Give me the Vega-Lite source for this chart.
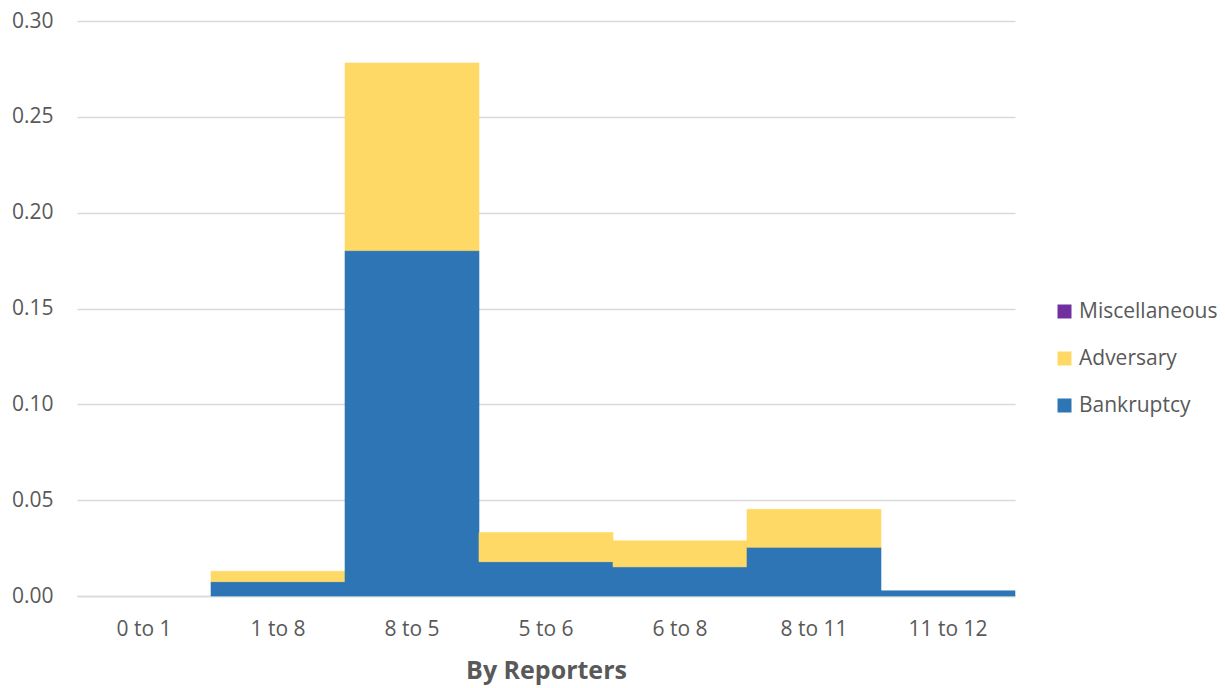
{
  "$schema": "https://vega.github.io/schema/vega-lite/v6.json",
  "width": 938,
  "height": 575,
  "autosize": {"type": "none"},
  "padding": {"left": 77, "top": 21, "right": 210, "bottom": 92},
  "background": "white",
  "config": {
    "view": {"stroke": null},
    "font": "Open Sans"
  },
  "data": {
    "values": [
      {"range": "0 to 1", "type": "Bankruptcy", "value": 0},
      {"range": "0 to 1", "type": "Adversary", "value": 0},
      {"range": "0 to 1", "type": "Miscellaneous", "value": 0},
      {"range": "1 to 8", "type": "Bankruptcy", "value": 0.0075},
      {"range": "1 to 8", "type": "Adversary", "value": 0.0054},
      {"range": "1 to 8", "type": "Miscellaneous", "value": 0},
      {"range": "8 to 5", "type": "Bankruptcy", "value": 0.1802},
      {"range": "8 to 5", "type": "Adversary", "value": 0.0979},
      {"range": "8 to 5", "type": "Miscellaneous", "value": 0},
      {"range": "5 to 6", "type": "Bankruptcy", "value": 0.0179},
      {"range": "5 to 6", "type": "Adversary", "value": 0.0152},
      {"range": "5 to 6", "type": "Miscellaneous", "value": 0},
      {"range": "6 to 8", "type": "Bankruptcy", "value": 0.0152},
      {"range": "6 to 8", "type": "Adversary", "value": 0.0136},
      {"range": "6 to 8", "type": "Miscellaneous", "value": 0},
      {"range": "8 to 11", "type": "Bankruptcy", "value": 0.0254},
      {"range": "8 to 11", "type": "Adversary", "value": 0.0198},
      {"range": "8 to 11", "type": "Miscellaneous", "value": 0},
      {"range": "11 to 12", "type": "Bankruptcy", "value": 0.0027},
      {"range": "11 to 12", "type": "Adversary", "value": 0},
      {"range": "11 to 12", "type": "Miscellaneous", "value": 0}
    ]
  },
  "transform": [
    {"filter": "datum.value > 0"},
    {"calculate": "indexof(['Bankruptcy','Adversary','Miscellaneous'], datum.type)", "as": "stackOrder"}
  ],
  "mark": {"type": "bar", "strokeWidth": 0.6},
  "encoding": {
    "x": {
      "field": "range",
      "type": "nominal",
      "sort": ["0 to 1", "1 to 8", "8 to 5", "5 to 6", "6 to 8", "8 to 11", "11 to 12"],
      "scale": {"domain": ["0 to 1", "1 to 8", "8 to 5", "5 to 6", "6 to 8", "8 to 11", "11 to 12"], "paddingInner": 0, "paddingOuter": 0},
      "axis": {
        "title": "By Reporters",
        "titleFontSize": 25,
        "titleFontWeight": "bold",
        "titleColor": "#595959",
        "titlePadding": 19,
        "labelAngle": 0,
        "labelFontSize": 21,
        "labelColor": "#595959",
        "labelPadding": 22,
        "ticks": false,
        "domainColor": "#d9d9d9",
        "domainWidth": 1.5
      }
    },
    "y": {
      "field": "value",
      "type": "quantitative",
      "stack": "zero",
      "scale": {"domain": [0, 0.3], "nice": false},
      "axis": {
        "title": null,
        "values": [0, 0.05, 0.1, 0.15, 0.2, 0.25, 0.3],
        "format": ".2f",
        "labelFontSize": 21,
        "labelColor": "#595959",
        "labelPadding": 24,
        "ticks": false,
        "domain": false,
        "gridColor": "#d9d9d9",
        "gridWidth": 1.3
      }
    },
    "color": {
      "field": "type",
      "type": "nominal",
      "scale": {
        "domain": ["Miscellaneous", "Adversary", "Bankruptcy"],
        "range": ["#7030A0", "#FFD966", "#2E75B6"]
      },
      "legend": {
        "title": null,
        "orient": "none",
        "legendX": 977,
        "legendY": 280,
        "symbolType": "square",
        "symbolSize": 196,
        "symbolStrokeWidth": 0,
        "labelFontSize": 21,
        "labelColor": "#595959",
        "labelOffset": 4,
        "rowPadding": 25
      }
    },
    "stroke": {
      "field": "type",
      "type": "nominal",
      "scale": {
        "domain": ["Miscellaneous", "Adversary", "Bankruptcy"],
        "range": ["#7030A0", "#FFD966", "#2E75B6"]
      },
      "legend": null
    },
    "order": {"field": "stackOrder", "type": "quantitative"}
  }
}
